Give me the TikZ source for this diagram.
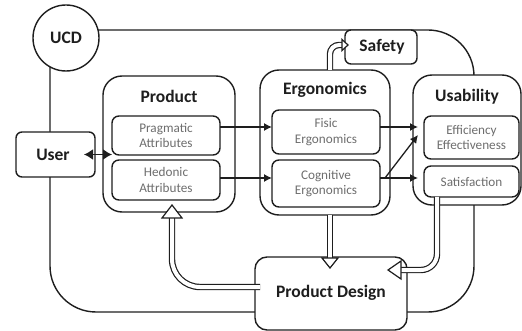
\documentclass[tikz,border=0pt]{standalone}
\usepackage{fontspec}
\setmainfont{Carlito}
\usetikzlibrary{arrows.meta}
\definecolor{ink}{HTML}{1E1E1E}
\definecolor{soft}{HTML}{6E6E6E}
\begin{document}
\begin{tikzpicture}[x=1pt,y=-1pt,
  every node/.style={inner sep=0pt, outer sep=0pt},
  bx/.style={draw=ink, line width=1.4pt, fill=white, rounded corners=#1},
  ttl/.style={text=ink, font=\fontsize{17.5}{20}\selectfont\bfseries},
  inr/.style={text=soft, font=\fontsize{13.2}{15.5}\selectfont, align=center},
  ln/.style={draw=ink, line width=1.4pt},
  arr/.style={draw=ink, line width=1.3pt, -{Latex[length=8pt,width=8pt]}},
  dbl/.style={draw=ink, line width=1.2pt, double=white, double distance=4pt},
  headtri/.style={draw=ink, fill=white, line width=1.2pt, line join=miter}
]
\useasboundingbox (0,0) rectangle (522,331);
% outer frame
\draw[ln] (50,30) [rounded corners=46] -- (474,30) -- (474,312) -- (50,312) [sharp corners] -- cycle;

% nodes
\node[bx=0pt, circle, minimum size=66pt] (ucd) at (66,38) {};
\node[ttl] (ucdt) at (66,38) {UCD};
\node[bx=6pt, minimum width=79pt, minimum height=45pt] (user) at (55.5,154.5) {};
\node[ttl] (usert) at (53,155) {User};

\node[bx=6pt, minimum width=72pt, minimum height=34pt] (safety) at (381,47) {};
\node[ttl] (safetyt) at (382,47) {Safety};

\node[bx=19pt, minimum width=132pt, minimum height=136pt] (product) at (169,144) {};
\node[ttl] (productt) at (169,96) {Product};
\node[bx=7pt, minimum width=108pt, minimum height=39pt, inr] (prag) at (166,135.5) {Pragmatic\\Attributes};
\node[bx=7pt, minimum width=108pt, minimum height=40pt, inr] (hed) at (166,180) {Hedonic\\Attributes};

\node[bx=19pt, minimum width=130pt, minimum height=145pt] (ergo) at (325,142.5) {};
\node[ttl] (ergot) at (325,90) {Ergonomics};
\node[bx=7pt, minimum width=108pt, minimum height=44pt, inr] (fisic) at (326,132) {Fisic\\Ergonomics};
\node[bx=7pt, minimum width=108pt, minimum height=47pt, inr] (cog) at (326,183.5) {Cognitive\\Ergonomics};

\node[bx=19pt, minimum width=108pt, minimum height=130pt] (usab) at (467,140) {};
\node[ttl] (usabt) at (467,97) {Usability};
\node[bx=7pt, minimum width=95pt, minimum height=43pt, inr] (eff) at (471.5,137.5) {Efficiency\\Effectiveness};
\node[bx=7pt, minimum width=95pt, minimum height=31pt, inr] (sat) at (471.5,181.5) {Satisfaction};

\node[bx=12pt, minimum width=152pt, minimum height=73pt] (pd) at (331,293.5) {};
\node[ttl] (pdt) at (331,293) {Product Design};

% single arrows
\draw[draw=ink, line width=1.6pt, {Latex[length=9pt,width=11pt]}-{Latex[length=9pt,width=11pt]}]
  ([xshift=-11pt]user.east) -- ([xshift=9pt]product.west |- user.east);
\draw[arr] (prag.east |- 0,127) -- (fisic.west |- 0,127);
\draw[arr] (hed.east |- 0,178) -- (cog.west |- 0,178);
\draw[arr] (fisic.east |- 0,127) -- (418,127);
\draw[arr] (cog.east |- 0,178) -- (418,178);
\draw[arr] (385,178) -- (418,135);

% hollow arrows
\draw[dbl, rounded corners=9pt] (ergo.north -| 330,0) -- (330,45) -- (342,45);
\draw[headtri] (342,39.5) -- (348,45) -- (342,50.5) -- cycle;

\draw[dbl] (ergo.south -| 330,0) -- (330,258);
\draw[headtri] (322,258) -- (338,258) -- (330,268) -- cycle;

\draw[dbl, rounded corners=28pt] (260,287) -- (172,287) -- (172,218);
\draw[headtri] (162,218) -- (182,218) -- (172,205) -- cycle;

\draw[dbl, rounded corners=16pt] (sat.south -| 437,0) -- (437,270) -- (401,270);
\draw[headtri] (401,261) -- (401,279) -- (388,270) -- cycle;
\end{tikzpicture}
\end{document}
